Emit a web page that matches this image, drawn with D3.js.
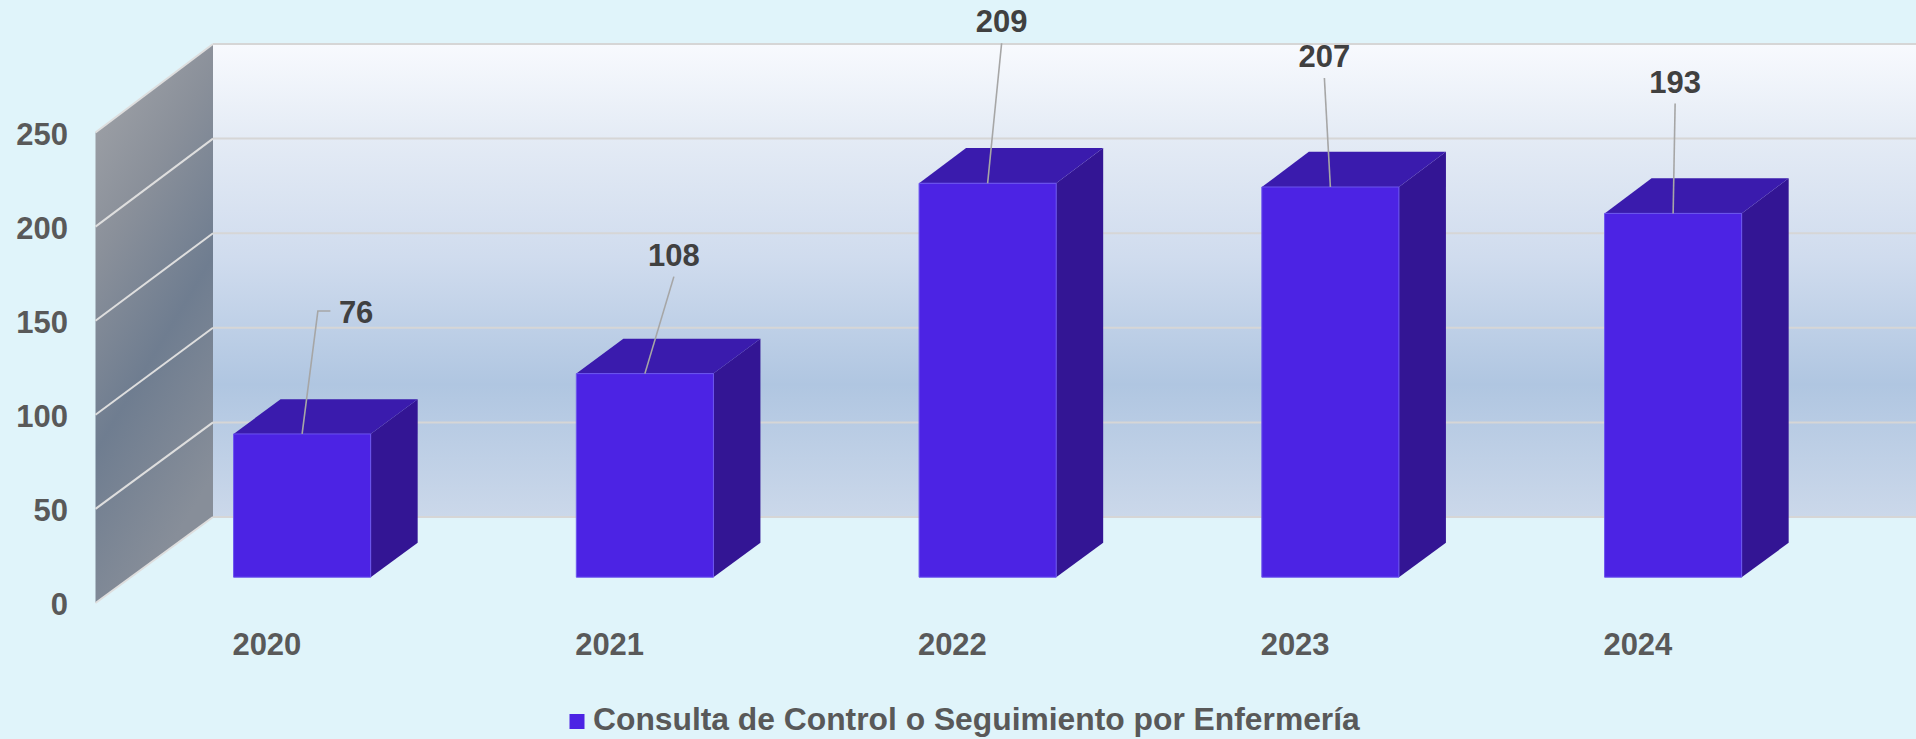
<!DOCTYPE html>
<html>
<head>
<meta charset="utf-8">
<script src="https://cdn.jsdelivr.net/npm/d3@7"></script>
<style>
  html, body { margin: 0; padding: 0; background: #e0f4fa; overflow: hidden; }
  svg { display: block; }
</style>
</head>
<body>
<div id="chart"></div>
<script>
const years = ["2020", "2021", "2022", "2023", "2024"];
const consultas = [76, 108, 209, 207, 193];
const yTicks = [0, 50, 100, 150, 200, 250];
const seriesName = "Consulta de Control o Seguimiento por Enfermería";

// labels were dragged by hand in the original, offsets from bar top (px)
const labelShift = [[54, -122], [29, -119], [14, -162], [-6, -131], [2, -132]];

const width = 1916;
const height = 739;
const font = "'Liberation Sans', Arial, sans-serif";

// 3d box: depth vector for the full floor, plus a touch of perspective
const DX = 117.5;
const DY = -86;
const PERSP = 2.5;
const zFront = 0.3;
const zBack = 0.7;

const svg = d3.select("#chart").append("svg")
  .attr("width", width)
  .attr("height", height);

const x = d3.scaleBand()
  .domain(years)
  .range([95.5, 1809.25])
  .paddingInner(0.6)
  .paddingOuter(0.3);

const y = d3.scaleLinear()
  .domain([0, 250])
  .range([603, 132.5]);

const P = (px, v, z) => [px + z * DX, y(v) + z * DY - z * PERSP * v / 250];
const poly = pts => "M" + pts.map(p => p.join(",")).join("L") + "Z";

const defs = svg.append("defs");

const backGrad = defs.append("linearGradient")
  .attr("id", "back").attr("x1", 0).attr("y1", 0).attr("x2", 0).attr("y2", 1);
[[0, "#f8fafe"], [0.2, "#e4ebf5"], [0.45, "#d0dcee"], [0.72, "#b0c6e1"], [1, "#cbd8ea"]]
  .forEach(s => backGrad.append("stop").attr("offset", s[0]).attr("stop-color", s[1]));

const sideGrad = defs.append("linearGradient")
  .attr("id", "side").attr("x1", 0).attr("y1", 0).attr("x2", 0.35).attr("y2", 1);
[[0, "#a4a6aa"], [0.35, "#8a909a"], [0.65, "#6f7d90"], [1, "#878e99"]]
  .forEach(s => sideGrad.append("stop").attr("offset", s[0]).attr("stop-color", s[1]));

const x0 = x.range()[0];
const x1 = x.range()[1];

// back wall
svg.append("path")
  .attr("d", poly([P(x0, 0, 1), P(x0, 250, 1), P(x1, 250, 1), P(x1, 0, 1)]))
  .attr("fill", "url(#back)");

// side wall
svg.append("path")
  .attr("d", poly([P(x0, 0, 0), P(x0, 250, 0), P(x0, 250, 1), P(x0, 0, 1)]))
  .attr("fill", "url(#side)");

// gridlines on both walls
const grid = svg.append("g")
  .attr("fill", "none")
  .attr("stroke-width", 2);

grid.selectAll(".gs")
  .data(yTicks)
  .join("path")
  .attr("stroke", "#dedede")
  .attr("d", v => "M" + P(x0, v, 0) + "L" + P(x0, v, 1));

grid.selectAll(".gb")
  .data(yTicks)
  .join("path")
  .attr("stroke", "#d6d6d6")
  .attr("d", v => "M" + P(x0, v, 1) + "L" + P(x1, v, 1));

// bars
const bw = x.bandwidth();
const bars = svg.append("g")
  .selectAll("g")
  .data(consultas)
  .join("g");

bars.append("path")
  .attr("fill", "#331594")
  .attr("d", (d, i) => {
    const r = x(years[i]) + bw;
    return poly([P(r, 0, zFront), P(r, d, zFront), P(r, d, zBack), P(r, 0, zBack)]);
  });

bars.append("path")
  .attr("fill", "#3a1bad")
  .attr("d", (d, i) => {
    const l = x(years[i]);
    return poly([P(l, d, zFront), P(l + bw, d, zFront), P(l + bw, d, zBack), P(l, d, zBack)]);
  });

bars.append("path")
  .attr("fill", "#4c23e4")
  .attr("stroke", "#6b55ee")
  .attr("stroke-width", 1)
  .attr("d", (d, i) => {
    const l = x(years[i]);
    return poly([P(l, 0, zFront), P(l + bw, 0, zFront), P(l + bw, d, zFront), P(l, d, zFront)]);
  });

// y axis
const yAxis = svg.append("g")
  .attr("transform", "translate(68,2)")
  .call(d3.axisLeft(y).tickValues(yTicks).tickSize(0).tickPadding(0));
yAxis.select(".domain").remove();
yAxis.selectAll("text")
  .attr("font-family", font)
  .attr("font-size", 31)
  .attr("font-weight", "bold")
  .attr("fill", "#595959");

// x axis
const xAxis = svg.append("g")
  .attr("transform", "translate(0,633)")
  .call(d3.axisBottom(x).tickSize(0).tickPadding(0));
xAxis.select(".domain").remove();
xAxis.selectAll("text")
  .attr("font-family", font)
  .attr("font-size", 31)
  .attr("font-weight", "bold")
  .attr("fill", "#595959");

// data labels with leader lines
const labels = svg.append("g");
consultas.forEach((d, i) => {
  const top = P(x(years[i]) + bw / 2, d, zFront);
  const cx = top[0] + labelShift[i][0];
  const cy = top[1] + labelShift[i][1];

  const t = labels.append("text")
    .attr("x", cx)
    .attr("y", cy)
    .attr("dy", "0.36em")
    .attr("text-anchor", "middle")
    .attr("font-family", font)
    .attr("font-size", 31)
    .attr("font-weight", "bold")
    .attr("fill", "#404040")
    .text(d);

  let pts;
  if (labelShift[i][0] > 40) {
    const left = cx - t.node().getComputedTextLength() / 2;
    pts = [top, [left - 21, cy - 1], [left - 8.5, cy - 1]];
  } else {
    pts = [top, [cx, cy + 22]];
  }
  labels.insert("path", "text")
    .attr("d", d3.line()(pts))
    .attr("fill", "none")
    .attr("stroke", "#a6a6a6")
    .attr("stroke-width", 1.6);
});

// legend
const legend = svg.append("g").attr("transform", "translate(569.5,714)");
legend.append("rect")
  .attr("width", 15)
  .attr("height", 15)
  .attr("fill", "#4c23e4");
legend.append("text")
  .attr("x", 23.5)
  .attr("y", 16)
  .attr("font-family", font)
  .attr("font-size", 31.8)
  .attr("font-weight", "bold")
  .attr("fill", "#595959")
  .text(seriesName);
</script>
</body>
</html>
